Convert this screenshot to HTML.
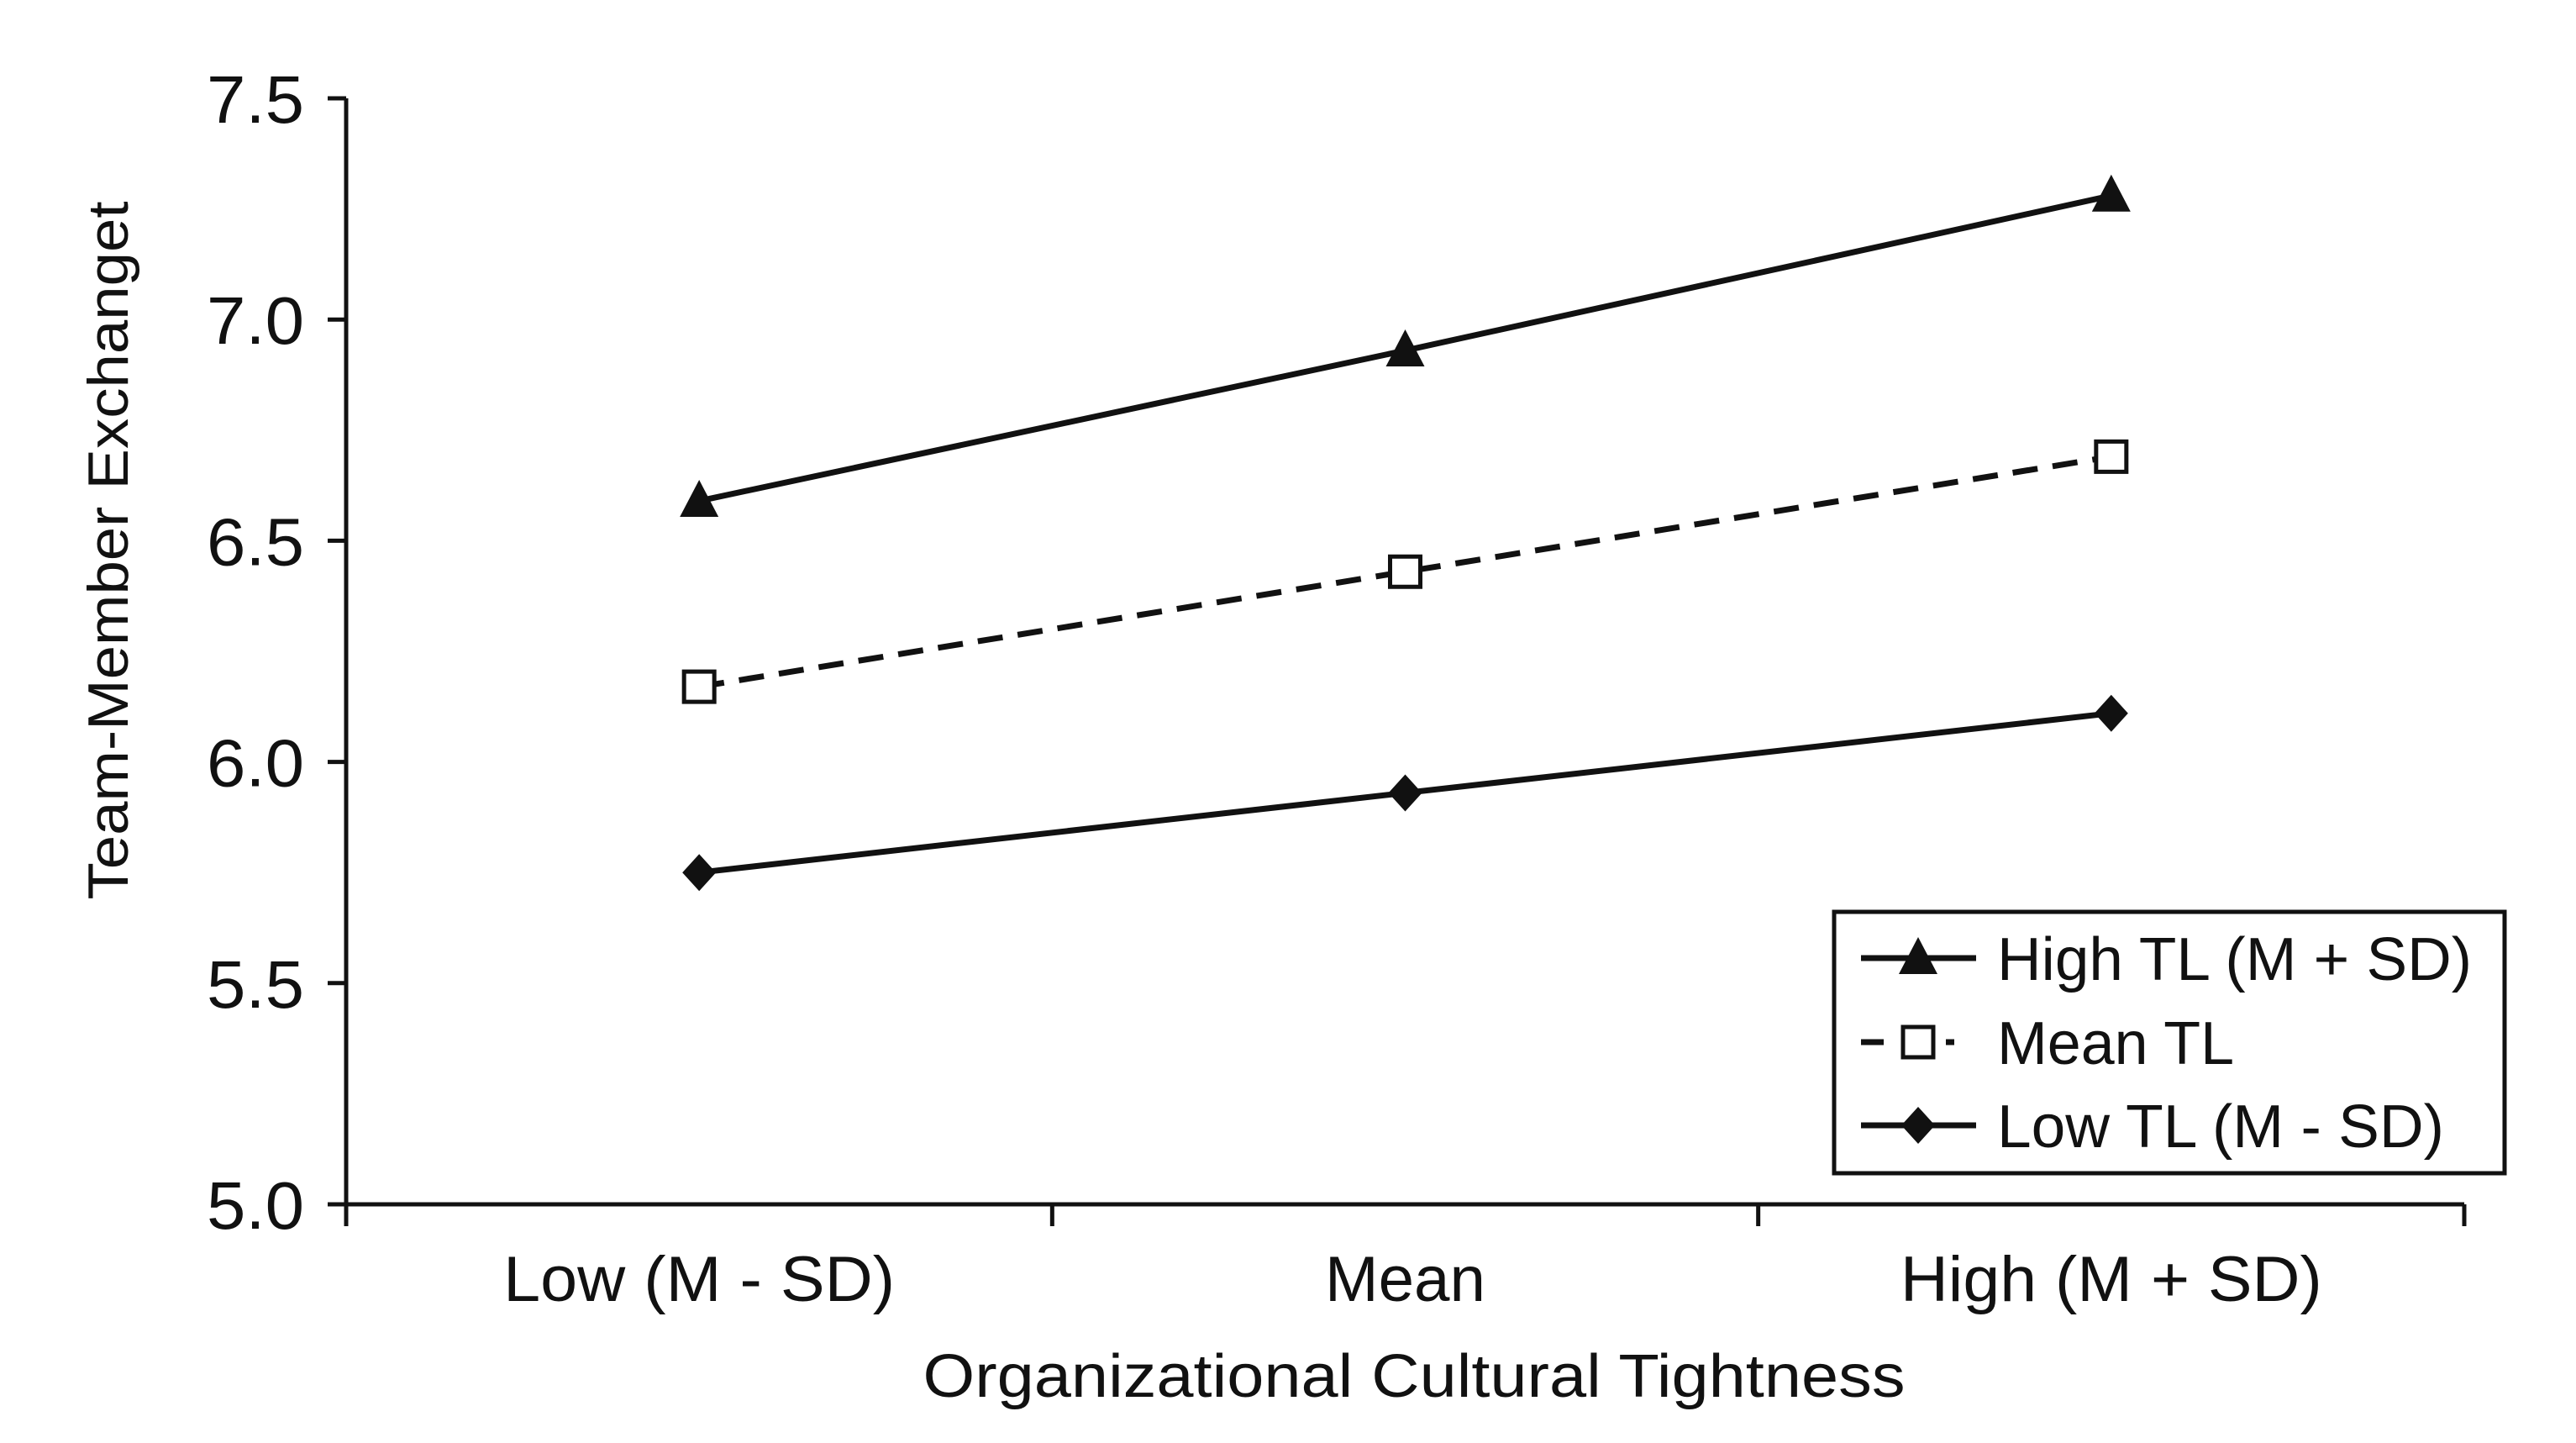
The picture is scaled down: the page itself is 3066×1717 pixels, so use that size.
<!DOCTYPE html>
<html><head><meta charset="utf-8"><style>
html,body{margin:0;padding:0;background:#fff;}
svg{display:block;}
text{font-family:"Liberation Sans",Arial,sans-serif;fill:#111;}
</style></head><body>
<svg id="chart" width="3066" height="1717" viewBox="0 0 3066 1717" xmlns="http://www.w3.org/2000/svg">
<rect x="0" y="0" width="3066" height="1717" fill="#fff"/>
<g id="axes"></g>
<g id="series"></g>
<g id="legend"></g>
</svg>
<script>
const categories = ["Low (M - SD)", "Mean", "High (M + SD)"];
const highTL = [6.59, 6.93, 7.28];
const meanTL = [6.17, 6.43, 6.69];
const lowTL = [5.75, 5.93, 6.11];
const yTicks = [5.0, 5.5, 6.0, 6.5, 7.0, 7.5];
const yTickLabels = ["5.0", "5.5", "6.0", "6.5", "7.0", "7.5"];
const seriesNames = ["High TL (M + SD)", "Mean TL", "Low TL (M - SD)"];

const NS = "http://www.w3.org/2000/svg";
const X0 = 412, X1 = 2933, Y0 = 1433, Y1 = 117, YMIN = 5.0, YMAX = 7.5;
function yScale(v){ return Y0 - (v - YMIN) / (YMAX - YMIN) * (Y0 - Y1); }
function xScale(i){ const w = (X1 - X0) / categories.length; return X0 + w * (i + 0.5); }
function mk(tag, attrs, parent){ const e = document.createElementNS(NS, tag); for (const k in attrs) e.setAttribute(k, attrs[k]); parent.appendChild(e); return e; }

const axes = document.getElementById('axes');
let el = mk('line', {x1:X0, y1:Y1, x2:X0, y2:Y0, stroke:'#111', 'stroke-width':5}, axes);


el = mk('line', {x1:X0-2, y1:Y0, x2:X1, y2:Y0, stroke:'#111', 'stroke-width':5}, axes);


yTicks.forEach((v, i) => {
  const y = yScale(v);
  let t = mk('line', {x1:X0-22, y1:y, x2:X0, y2:y, stroke:'#111', 'stroke-width':5}, axes);
  
  
  let l = mk('text', {x:362, y:y+29, 'text-anchor':'end', 'font-size':80, textLength:116, lengthAdjust:'spacingAndGlyphs'}, axes);
  l.textContent = yTickLabels[i];
  
  
});
for (let i = 0; i <= categories.length; i++) {
  const x = X0 + (X1 - X0) / categories.length * i;
  let t = mk('line', {x1:x, y1:Y0, x2:x, y2:Y0+26, stroke:'#111', 'stroke-width':5}, axes);
  
  
}
const catWidths = [466, 191, 502];
categories.forEach((c, i) => {
  let l = mk('text', {x:xScale(i), y:1548, 'text-anchor':'middle', 'font-size':76, textLength:catWidths[i], lengthAdjust:'spacingAndGlyphs'}, axes);
  l.textContent = c;
  
  
});
el = mk('text', {x:1683, y:1662, 'text-anchor':'middle', 'font-size':72, textLength:1169, lengthAdjust:'spacingAndGlyphs'}, axes);
el.textContent = "Organizational Cultural Tightness";


el = mk('text', {x:0, y:0, 'text-anchor':'middle', 'font-size':68, textLength:831, lengthAdjust:'spacingAndGlyphs', transform:'translate(152,655) rotate(-90)'}, axes);
el.textContent = "Team-Member Exchanget";



function marker(type, cx, cy, parent){
  let m;
  if (type === 'tri') m = mk('polygon', {points:`${cx},${cy-25} ${cx-23},${cy+19} ${cx+23},${cy+19}`, fill:'#111'}, parent);
  else if (type === 'sq') m = mk('rect', {x:cx-18, y:cy-18, width:36, height:36, fill:'#fff', stroke:'#111', 'stroke-width':5}, parent);
  else m = mk('polygon', {points:`${cx},${cy-22} ${cx+20},${cy} ${cx},${cy+22} ${cx-20},${cy}`, fill:'#111'}, parent);
  return m;
}
const seriesData = [highTL, meanTL, lowTL];
const markerTypes = ['tri', 'sq', 'dia'];
const dashes = ['', '30,18', ''];
const seriesKeys = ['high-tl', 'mean-tl', 'low-tl'];
const sg = document.getElementById('series');
seriesData.forEach((vals, s) => {
  const pts = vals.map((v, i) => `${xScale(i)},${yScale(v)}`).join(' ');
  let pl = mk('polyline', {points:pts, fill:'none', stroke:'#111', 'stroke-width':7, 'stroke-dasharray':dashes[s] || 'none'}, sg);
  
  
  vals.forEach((v, i) => {
    let m = marker(markerTypes[s], xScale(i), yScale(v), sg);
    
    
  });
});

const lg = document.getElementById('legend');
el = mk('rect', {x:2183, y:1085, width:798, height:311, fill:'#fff', stroke:'#111', 'stroke-width':5}, lg);


const legY = [1140, 1240, 1339];
const legW = [565, 282, 532];
seriesNames.forEach((n, s) => {
  const y = legY[s];
  let ln;
  if (s === 1) {
    ln = mk('path', {d:`M2215,${y} L2242,${y} M2316,${y} L2326,${y}`, stroke:'#111', 'stroke-width':7}, lg);
  } else {
    ln = mk('line', {x1:2215, y1:y, x2:2352, y2:y, stroke:'#111', 'stroke-width':7}, lg);
  }
  
  
  let m = marker(markerTypes[s], 2283, y, lg);
  
  
  let t = mk('text', {x:2377, y:y+26, 'font-size':72, textLength:legW[s], lengthAdjust:'spacingAndGlyphs'}, lg);
  t.textContent = n;
  
  
});
</script>
</body></html>
